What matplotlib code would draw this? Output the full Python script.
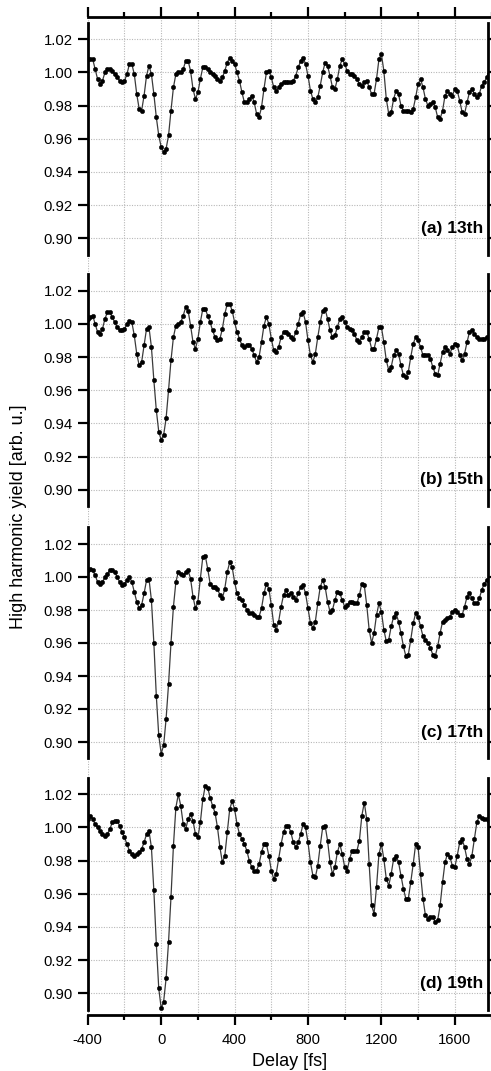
import numpy as np
import matplotlib
matplotlib.use("Agg")
import matplotlib.pyplot as plt
from matplotlib.ticker import MultipleLocator

plt.rcParams['font.family'] = ['Liberation Sans', 'DejaVu Sans']

# Delay grid: scan starts at -400 fs with 13.33 fs steps
DELAY_START = -400.0
DELAY_STEP = 40.0 / 3.0

yield_13 = [
    1.008, 1.008, 1.008, 1.002, 0.996, 0.993, 0.995, 1.000, 1.002, 1.002,
    1.001, 0.999, 0.997, 0.995, 0.994, 0.995, 0.999, 1.005, 1.005, 0.999,
    0.987, 0.978, 0.977, 0.986, 0.998, 1.004, 0.999, 0.987, 0.973, 0.962,
    0.955, 0.952, 0.954, 0.962, 0.977, 0.991, 0.999, 1.000, 1.000, 1.002,
    1.007, 1.007, 1.001, 0.990, 0.984, 0.988, 0.996, 1.003, 1.003, 1.002,
    1.000, 0.999, 0.998, 0.996, 0.995, 0.997, 1.001, 1.006, 1.009, 1.007,
    1.005, 1.000, 0.995, 0.988, 0.982, 0.982, 0.984, 0.986, 0.982, 0.975,
    0.973, 0.979, 0.990, 1.000, 1.001, 0.997, 0.991, 0.989, 0.991, 0.993,
    0.994, 0.994, 0.994, 0.994, 0.995, 0.998, 1.003, 1.007, 1.009, 1.005,
    0.998, 0.989, 0.984, 0.982, 0.985, 0.992, 1.000, 1.006, 1.004, 0.998,
    0.991, 0.990, 0.996, 1.004, 1.008, 1.005, 1.001, 0.999, 0.999, 0.998,
    0.996, 0.993, 0.992, 0.994, 0.995, 0.991, 0.987, 0.987, 0.996, 1.008,
    1.011, 1.001, 0.984, 0.975, 0.976, 0.984, 0.989, 0.987, 0.980, 0.977,
    0.977, 0.977, 0.976, 0.978, 0.985, 0.993, 0.996, 0.991, 0.984, 0.980,
    0.981, 0.982, 0.979, 0.973, 0.972, 0.977, 0.986, 0.989, 0.987, 0.986,
    0.990, 0.989, 0.983, 0.976, 0.975, 0.982, 0.988, 0.990, 0.987, 0.985,
    0.987, 0.992, 0.994, 0.997, 0.999,
]

yield_15 = [
    1.003, 1.004, 1.005, 1.000, 0.995, 0.994, 0.997, 1.003, 1.007, 1.007,
    1.004, 1.001, 0.998, 0.996, 0.996, 0.997, 1.000, 1.002, 1.001, 0.993,
    0.982, 0.975, 0.977, 0.987, 0.997, 0.998, 0.986, 0.966, 0.948, 0.935,
    0.930, 0.933, 0.943, 0.960, 0.978, 0.992, 0.999, 1.000, 1.001, 1.005,
    1.010, 1.008, 0.999, 0.989, 0.985, 0.991, 1.001, 1.009, 1.009, 1.005,
    1.001, 0.996, 0.992, 0.990, 0.991, 0.997, 1.006, 1.012, 1.012, 1.008,
    1.001, 0.995, 0.991, 0.987, 0.986, 0.987, 0.987, 0.985, 0.981, 0.977,
    0.980, 0.989, 0.999, 1.004, 1.000, 0.991, 0.984, 0.983, 0.986, 0.992,
    0.995, 0.995, 0.994, 0.992, 0.991, 0.995, 1.000, 1.006, 1.007, 1.001,
    0.990, 0.981, 0.977, 0.982, 0.992, 1.001, 1.008, 1.009, 1.003, 0.996,
    0.992, 0.993, 0.998, 1.003, 1.004, 1.001, 0.998, 0.997, 0.996, 0.994,
    0.990, 0.989, 0.992, 0.995, 0.995, 0.991, 0.985, 0.985, 0.991, 0.998,
    0.998, 0.989, 0.978, 0.972, 0.974, 0.981, 0.984, 0.982, 0.975, 0.969,
    0.968, 0.971, 0.980, 0.988, 0.992, 0.990, 0.986, 0.981, 0.981, 0.981,
    0.979, 0.974, 0.970, 0.969, 0.976, 0.983, 0.986, 0.984, 0.982, 0.986,
    0.988, 0.987, 0.981, 0.978, 0.982, 0.989, 0.995, 0.996, 0.994, 0.992,
    0.991, 0.991, 0.991, 0.992, 0.992,
]

yield_17 = [
    1.004, 1.005, 1.004, 1.001, 0.997, 0.996, 0.997, 1.000, 1.002, 1.004,
    1.004, 1.003, 1.000, 0.997, 0.995, 0.996, 0.998, 1.000, 0.997, 0.991,
    0.985, 0.981, 0.983, 0.990, 0.998, 0.999, 0.986, 0.960, 0.928, 0.904,
    0.893, 0.898, 0.914, 0.935, 0.960, 0.982, 0.997, 1.003, 1.002, 1.001,
    1.003, 1.004, 0.999, 0.988, 0.981, 0.985, 0.999, 1.012, 1.013, 1.005,
    0.996, 0.994, 0.994, 0.993, 0.989, 0.987, 0.993, 1.003, 1.009, 1.006,
    0.997, 0.990, 0.987, 0.986, 0.983, 0.980, 0.978, 0.978, 0.977, 0.976,
    0.976, 0.981, 0.990, 0.996, 0.993, 0.983, 0.971, 0.968, 0.973, 0.982,
    0.989, 0.992, 0.989, 0.990, 0.988, 0.986, 0.990, 0.994, 0.995, 0.990,
    0.981, 0.972, 0.969, 0.973, 0.984, 0.994, 0.998, 0.994, 0.985, 0.979,
    0.980, 0.986, 0.991, 0.990, 0.986, 0.982, 0.983, 0.985, 0.985, 0.984,
    0.984, 0.989, 0.996, 0.995, 0.983, 0.968, 0.960, 0.966, 0.977, 0.984,
    0.979, 0.968, 0.961, 0.962, 0.970, 0.976, 0.978, 0.973, 0.966, 0.958,
    0.952, 0.953, 0.962, 0.972, 0.978, 0.976, 0.970, 0.964, 0.962, 0.960,
    0.957, 0.953, 0.952, 0.958, 0.966, 0.973, 0.974, 0.975, 0.976, 0.979,
    0.980, 0.979, 0.977, 0.977, 0.982, 0.988, 0.990, 0.987, 0.984, 0.984,
    0.987, 0.992, 0.996, 0.998, 0.998,
]

yield_19 = [
    1.005, 1.007, 1.005, 1.002, 1.000, 0.998, 0.996, 0.995, 0.996, 0.999,
    1.003, 1.004, 1.004, 1.001, 0.997, 0.994, 0.990, 0.986, 0.984, 0.983,
    0.984, 0.985, 0.987, 0.991, 0.996, 0.998, 0.988, 0.962, 0.930, 0.903,
    0.891, 0.895, 0.909, 0.931, 0.958, 0.989, 1.012, 1.020, 1.013, 1.002,
    0.999, 1.005, 1.008, 1.004, 0.996, 0.994, 1.003, 1.017, 1.025, 1.024,
    1.018, 1.013, 1.009, 1.000, 0.988, 0.979, 0.983, 0.997, 1.011, 1.016,
    1.011, 1.002, 0.996, 0.993, 0.990, 0.986, 0.980, 0.976, 0.974, 0.974,
    0.978, 0.985, 0.990, 0.990, 0.983, 0.974, 0.969, 0.972, 0.981, 0.990,
    0.997, 1.001, 1.001, 0.997, 0.991, 0.988, 0.991, 0.996, 1.002, 1.000,
    0.991, 0.979, 0.971, 0.970, 0.977, 0.989, 1.000, 1.001, 0.992, 0.979,
    0.972, 0.976, 0.985, 0.990, 0.984, 0.976, 0.974, 0.981, 0.986, 0.986,
    0.986, 0.992, 1.007, 1.015, 1.005, 0.978, 0.953, 0.948, 0.964, 0.984,
    0.990, 0.981, 0.969, 0.965, 0.972, 0.981, 0.983, 0.979, 0.971, 0.963,
    0.957, 0.957, 0.967, 0.978, 0.990, 0.988, 0.972, 0.957, 0.947, 0.945,
    0.946, 0.946, 0.943, 0.944, 0.953, 0.967, 0.979, 0.984, 0.982, 0.977,
    0.976, 0.983, 0.991, 0.993, 0.988, 0.981, 0.978, 0.983, 0.993, 1.003,
    1.007, 1.006, 1.005, 1.005, 1.004,
]

panel_series = [yield_13, yield_15, yield_17, yield_19]
panel_labels = ["(a) 13th", "(b) 15th", "(c) 17th", "(d) 19th"]

x_ticks = [-400, 0, 400, 800, 1200, 1600]
y_ticks = [0.90, 0.92, 0.94, 0.96, 0.98, 1.00, 1.02]

W, H = 491, 1071
fig = plt.figure(figsize=(W / 100, H / 100), dpi=100)

X_LEFT_PX = 87.8
PX_PER_FS = 0.1835
XMIN = -400
XMAX_PANEL = 1781
XMAX_FRAME = 1800

TICK_FS = 10.7
MAJOR_LEN = 7.5
MINOR_LEN = 3.6
TICK_W = 1.6
SPINE_W = 2.0
GRID_KW = dict(color="#b8b8b8", linestyle=(0, (1.0, 1.3)), linewidth=0.8)


def px_rect(left, top, width, height):
    return [left / W, 1 - (top + height) / H, width / W, height / H]


# Shared delay frame: top and bottom axis lines plus vertical grid
frame_top, frame_bottom = 16.7, 1015.3
frame = fig.add_axes(px_rect(X_LEFT_PX, frame_top,
                             (XMAX_FRAME - XMIN) * PX_PER_FS,
                             frame_bottom - frame_top), zorder=0)
frame.set_facecolor("none")
frame.set_xlim(XMIN, XMAX_FRAME)
frame.set_ylim(0, 1)
frame.set_yticks([])
for side in ("left", "right"):
    frame.spines[side].set_visible(False)
for side in ("top", "bottom"):
    frame.spines[side].set_linewidth(SPINE_W)
frame.xaxis.set_major_locator(MultipleLocator(400))
frame.xaxis.set_minor_locator(MultipleLocator(200))
frame.set_xticks(x_ticks)
frame.set_xticklabels([str(t) for t in x_ticks])
frame.tick_params(axis="x", which="both", top=True, bottom=True,
                  direction="out", width=TICK_W, labelsize=TICK_FS,
                  labeltop=False, labelbottom=True, pad=5)
frame.tick_params(axis="x", which="major", length=MAJOR_LEN)
frame.tick_params(axis="x", which="minor", length=MINOR_LEN)
frame.grid(True, axis="x", which="both", **GRID_KW)
frame.set_axisbelow(True)

# Stacked harmonic panels (pixel top/bottom of the y-range 0.89..1.03)
panel_px = [(22.7, 254.9), (274.1, 506.3), (527.5, 758.5), (777.7, 1009.9)]

for values, label, (top, bottom) in zip(panel_series, panel_labels, panel_px):
    ax = fig.add_axes(px_rect(X_LEFT_PX, top,
                              (XMAX_PANEL - XMIN) * PX_PER_FS, bottom - top),
                      zorder=2)
    ax.set_facecolor("none")
    delay = DELAY_START + DELAY_STEP * np.arange(len(values))
    ax.plot(delay, values, color="#3a3a3a", linewidth=0.9,
            marker="o", markersize=3.2, markerfacecolor="black",
            markeredgecolor="black", markeredgewidth=0.3)
    ax.set_xlim(XMIN, XMAX_PANEL)
    ax.set_ylim(0.89, 1.03)
    ax.set_yticks(y_ticks)
    ax.set_yticklabels([f"{t:.2f}" for t in y_ticks])
    ax.set_xticks([])
    for side in ("top", "bottom"):
        ax.spines[side].set_visible(False)
    for side in ("left", "right"):
        ax.spines[side].set_linewidth(SPINE_W)
    ax.tick_params(axis="y", which="major", left=True, right=True,
                   direction="out", length=MAJOR_LEN, width=TICK_W,
                   labelsize=TICK_FS, labelleft=True, labelright=False,
                   pad=3.5)
    ax.grid(True, axis="y", which="major", **GRID_KW)
    ax.text(0.9875, 0.906, label, transform=ax.get_yaxis_transform(),
            ha="right", va="center", fontsize=12.5, fontweight="bold")

fig.text(19 / W, 1 - 517 / H, "High harmonic yield [arb. u.]",
         rotation=90, ha="center", va="center", fontsize=13)
fig.text(290 / W, 1 - 1061 / H, "Delay [fs]",
         ha="center", va="center", fontsize=13)

fig.savefig("out.png", dpi=100)
